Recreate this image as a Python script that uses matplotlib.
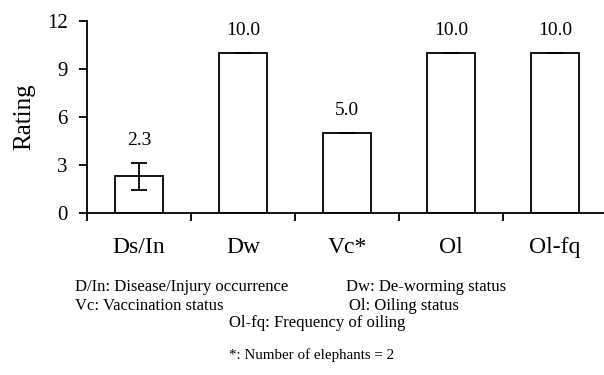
import matplotlib
matplotlib.use("Agg")
import matplotlib.pyplot as plt

plt.rcParams['font.family'] = ['Liberation Serif', 'DejaVu Serif']

categories = ["Ds/In", "Dw", "Vc*", "Ol", "Ol-fq"]
ratings = [2.3, 10.0, 5.0, 10.0, 10.0]
errors = [0.85, 0.0, 0.0, 0.0, 0.0]
yticks = [0, 3, 6, 9, 12]

W, H = 604, 375
fig = plt.figure(figsize=(W / 100, H / 100), dpi=100)
# axes: left spine at x=87, baseline at y=213, top at y=21, right edge past the canvas
left, right, top, bottom = 87, 607, 21, 213
ax = fig.add_axes([left / W, 1 - bottom / H, (right - left) / W, (bottom - top) / H])

x = list(range(len(categories)))
ax.bar(x, ratings, width=0.47, color="white", edgecolor="black", linewidth=1.3,
       yerr=errors, capsize=6, error_kw=dict(elinewidth=1.3, capthick=1.3, ecolor="black"),
       zorder=2)

for xi, v, e in zip(x, ratings, errors):
    ax.text(xi, v + e + 1.4, f"{v:.1f}", ha="center", va="center", fontsize=14)

ax.set_xlim(-0.5, 4.5)
ax.set_ylim(0, 12)
ax.set_yticks(yticks)
ax.set_yticklabels([str(t) for t in yticks], fontsize=15)
ax.tick_params(axis="y", direction="out", length=6, width=1.3, pad=8)

# category names centred under bars, tick marks on the boundaries between them
ax.set_xticks([i + 0.5 for i in range(-1, len(categories))])
ax.set_xticklabels([])
ax.tick_params(axis="x", direction="out", length=6, width=1.3)
for xi, c in zip(x, categories):
    ax.text(xi, -2.15, c, ha="center", va="center", fontsize=17,
            transform=ax.transData, clip_on=False)

for s in ["top", "right"]:
    ax.spines[s].set_visible(False)
for s in ["left", "bottom"]:
    ax.spines[s].set_linewidth(1.3)

ax.set_ylabel("Rating", fontsize=18, labelpad=8)

def note(px, py, s, ha="left", size=12):
    fig.text(px / W, 1 - py / H, s, ha=ha, va="center", fontsize=size)

note(75, 287, "D/In: Disease/Injury occurrence")
note(346, 287, "Dw: De-worming status")
note(75, 306, "Vc: Vaccination status")
note(349, 306, "Ol: Oiling status")
note(229, 323, "Ol-fq: Frequency of oiling")
note(229, 355, "*: Number of elephants = 2", size=10.8)

fig.savefig("out.png", dpi=100)
